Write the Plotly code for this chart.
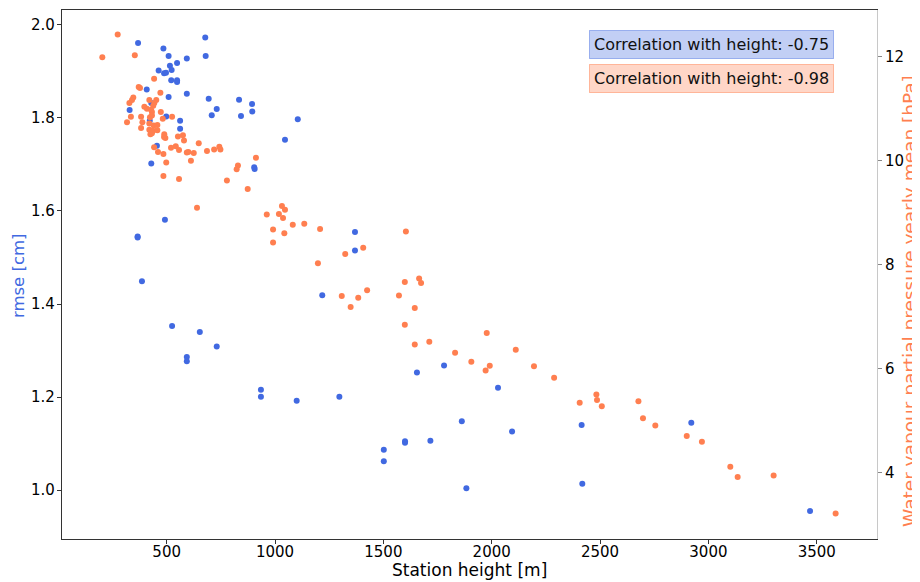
import plotly.graph_objects as go

# rmse [cm] per station (blue)
rmse_height = [678, 368, 485, 509, 680, 593, 548, 515, 523, 463, 488, 497, 521, 548, 548,
               408, 593, 509, 694, 834, 894, 429, 329, 731, 895, 708, 843, 498, 1105, 562,
               422, 562, 1046, 455, 904, 906, 429, 492, 366, 366, 1369, 1369, 386, 1218,
               525, 653, 731, 593, 593, 1780, 1655, 935, 935, 1100, 1297, 2029, 1862, 2094,
               2415, 1502, 1502, 1600, 1600, 1717, 1883, 2418, 2921, 3469]
rmse_values = [1.973, 1.961, 1.949, 1.933, 1.933, 1.928, 1.918, 1.912, 1.903, 1.902, 1.896,
               1.897, 1.881, 1.881, 1.877, 1.861, 1.852, 1.845, 1.841, 1.839, 1.830, 1.832,
               1.817, 1.819, 1.814, 1.806, 1.804, 1.803, 1.797, 1.794, 1.794, 1.777, 1.753,
               1.740, 1.694, 1.690, 1.702, 1.581, 1.545, 1.543, 1.555, 1.515, 1.449, 1.419,
               1.353, 1.340, 1.309, 1.286, 1.277, 1.268, 1.253, 1.216, 1.201, 1.192, 1.201,
               1.220, 1.148, 1.126, 1.140, 1.087, 1.062, 1.105, 1.102, 1.106, 1.004, 1.014,
               1.145, 0.955]

# water vapour partial pressure yearly mean [hPa] (orange)
wv_height = [274, 203, 353, 442, 371, 377, 471, 346, 340, 328, 420, 452, 443, 438, 397, 409,
             428, 432, 473, 335, 382, 423, 432, 525, 482, 317, 388, 420, 440, 457, 382, 420,
             437, 457, 425, 432, 489, 488, 494, 552, 575, 580, 648, 442, 520, 542, 557, 460,
             485, 593, 600, 625, 686, 719, 743, 748, 912, 498, 612, 829, 823, 485, 557, 778,
             874, 640, 1032, 1046, 962, 1018, 1037, 1082, 1135, 1208, 991, 1043, 991, 1324,
             1198, 1308, 1384, 1349, 1407, 1604, 1425, 1599, 1665, 1674, 1572, 1645, 1599,
             1977, 1645, 1712, 2111, 1831, 1906, 1991, 1972, 2195, 2288, 2483, 2486, 2508,
             2406, 2677, 2698, 2755, 2900, 2970, 3101, 3135, 3301, 3587]
wv_values = [12.43, 11.99, 12.03, 11.58, 11.42, 11.40, 11.31, 11.22, 11.17, 11.11, 11.17,
             11.17, 11.11, 11.06, 11.04, 11.00, 10.98, 10.94, 10.94, 10.85, 10.85, 10.84,
             10.87, 10.85, 10.81, 10.74, 10.74, 10.72, 10.68, 10.69, 10.63, 10.60, 10.58,
             10.59, 10.51, 10.53, 10.51, 10.46, 10.44, 10.47, 10.49, 10.39, 10.34, 10.26,
             10.25, 10.28, 10.21, 10.17, 10.13, 10.16, 10.17, 10.15, 10.19, 10.22, 10.27,
             10.22, 10.06, 9.97, 10.00, 9.91, 9.84, 9.71, 9.65, 9.62, 9.46, 9.10, 9.13, 9.06,
             8.97, 8.98, 8.90, 8.77, 8.79, 8.69, 8.68, 8.61, 8.43, 8.21, 8.03, 7.40, 7.37,
             7.19, 8.33, 8.64, 7.51, 7.67, 7.74, 7.65, 7.41, 7.17, 6.85, 6.69, 6.47, 6.52,
             6.37, 6.31, 6.14, 6.06, 5.97, 6.05, 5.83, 5.51, 5.40, 5.28, 5.35, 5.38, 5.05,
             4.91, 4.71, 4.60, 4.12, 3.92, 3.95, 3.22]

corr_labels = ["Correlation with height: -0.75", "Correlation with height: -0.98"]
x_title = "Station height [m]"
y_title = "rmse [cm]"
y2_title = "Water vapour partial pressure yearly mean [hPa]"

BLUE = "#4169E1"
ORANGE = "#FF7F50"
FONT = "DejaVu Sans"

fig = go.Figure()
fig.add_trace(go.Scatter(x=rmse_height, y=rmse_values, mode="markers",
                         marker=dict(color=BLUE, size=6), yaxis="y", showlegend=False))
fig.add_trace(go.Scatter(x=wv_height, y=wv_values, mode="markers",
                         marker=dict(color=ORANGE, size=6), yaxis="y2", showlegend=False))

# page body has an 8px margin: figure is laid out 8px right/down
fig.update_layout(
    width=912, height=574,
    margin=dict(l=54, r=43, t=2, b=43),
    paper_bgcolor="white", plot_bgcolor="white",
    font=dict(family=FONT, size=15, color="black"),
    xaxis=dict(range=[17, 3778], tickvals=[500, 1000, 1500, 2000, 2500, 3000, 3500],
               showgrid=False, zeroline=False, showline=True, linecolor="#333", linewidth=1.2,
               mirror=True, ticks="outside", ticklen=4, tickcolor="#333", automargin=False,
               tickfont=dict(size=15), ticklabelstandoff=-5),
    yaxis=dict(range=[0.895, 2.032], tickvals=[1.0, 1.2, 1.4, 1.6, 1.8, 2.0],
               ticktext=["1.0", "1.2", "1.4", "1.6", "1.8", "2.0"], automargin=False,
               showgrid=False, zeroline=False, showline=True, linecolor="#333", linewidth=1.2,
               ticks="outside", ticklen=4, tickcolor="#333", tickfont=dict(size=15),
               ticklabelstandoff=-1),
    yaxis2=dict(range=[2.73, 12.90], tickvals=[4, 6, 8, 10, 12], overlaying="y", side="right",
                showgrid=False, zeroline=False, showline=True, linecolor="#c8c8c8", linewidth=1,
                ticks="outside", ticklen=4, tickcolor="#888", tickfont=dict(size=15),
                automargin=False),
)

# axis titles
fig.add_annotation(x=0.5006, y=0, xref="paper", yref="paper", yshift=-31,
                   xanchor="center", yanchor="middle", text=x_title, showarrow=False,
                   font=dict(size=17, color="black"))
fig.add_annotation(x=0, y=0.497, xref="paper", yref="paper", xshift=-44,
                   xanchor="center", yanchor="middle", text=y_title, showarrow=False,
                   textangle=-90, font=dict(size=16.5, color=BLUE))
fig.add_annotation(x=1, y=0.45, xref="paper", yref="paper", xshift=33,
                   xanchor="center", yanchor="middle", text=y2_title, showarrow=False,
                   textangle=-90, font=dict(size=18.5, color=ORANGE))

# correlation boxes
fig.add_annotation(x=0.947, y=0.934, xref="paper", yref="paper", xanchor="right", yanchor="middle",
                   text=corr_labels[0], showarrow=False, font=dict(size=16, color="#111"),
                   bgcolor="rgba(65,105,225,0.32)", bordercolor="rgba(65,105,225,0.45)",
                   borderwidth=1, borderpad=4)
fig.add_annotation(x=0.947, y=0.8705, xref="paper", yref="paper", xanchor="right", yanchor="middle",
                   text=corr_labels[1], showarrow=False, font=dict(size=16, color="#111"),
                   bgcolor="rgba(255,127,80,0.32)", bordercolor="rgba(255,127,80,0.5)",
                   borderwidth=1, borderpad=4)

fig.write_html("out.html")
